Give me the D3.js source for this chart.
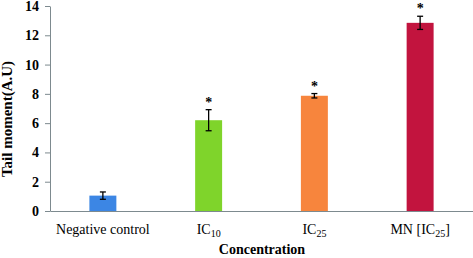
<!DOCTYPE html>
<html>
<head>
<meta charset="utf-8">
<script src="https://cdn.jsdelivr.net/npm/d3@7"></script>
<style>
  body { margin: 0; background: #fff; }
  svg text { font-family: "Liberation Serif", "Times New Roman", serif; }
</style>
</head>
<body>
<div id="chart"></div>
<script>
// donnees
var categories = ["Negative control", "IC10", "IC25", "MN [IC25]"];
var valeurs = [1.05, 6.2, 7.87, 12.85];
var erreurs = [0.25, 0.72, 0.15, 0.45];
var signif = [false, true, true, true];
var couleurs = ["#3c86e4", "#7fd42b", "#f7853d", "#c2143e"];
var yTicks = [0, 2, 4, 6, 8, 10, 12, 14];

var width = 473, height = 258;
var margin = {top: 6, right: 0, bottom: 47, left: 50};

var svg = d3.select("#chart").append("svg")
    .attr("width", width).attr("height", height);

var x = d3.scaleBand().domain(categories)
    .range([margin.left, width - margin.right])
    .paddingInner(0.745).paddingOuter(0.3725);

var y = d3.scaleLinear().domain([0, 14])
    .range([height - margin.bottom, margin.top]);

var axisColor = "#7d8a8f";

// barres
svg.selectAll(".bar").data(valeurs).enter().append("rect")
    .attr("class", "bar")
    .attr("x", (d, i) => x(categories[i]))
    .attr("y", d => y(d))
    .attr("width", x.bandwidth())
    .attr("height", d => y(0) - y(d))
    .attr("fill", (d, i) => couleurs[i]);

// barres d'erreur
var eb = svg.selectAll(".err").data(valeurs).enter().append("g")
    .attr("class", "err")
    .attr("stroke", "#000").attr("stroke-width", 1.3);
eb.append("line")
    .attr("x1", (d, i) => x(categories[i]) + x.bandwidth() / 2)
    .attr("x2", (d, i) => x(categories[i]) + x.bandwidth() / 2)
    .attr("y1", (d, i) => y(d + erreurs[i]))
    .attr("y2", (d, i) => y(d - erreurs[i]));
[1, -1].forEach(s => {
    eb.append("line")
        .attr("x1", (d, i) => x(categories[i]) + x.bandwidth() / 2 - 3)
        .attr("x2", (d, i) => x(categories[i]) + x.bandwidth() / 2 + 3)
        .attr("y1", (d, i) => y(d + s * erreurs[i]))
        .attr("y2", (d, i) => y(d + s * erreurs[i]));
});

// etoiles
valeurs.forEach((d, i) => {
    if (!signif[i]) return;
    svg.append("text")
        .attr("class", "star")
        .attr("x", x(categories[i]) + x.bandwidth() / 2)
        .attr("y", y(d + erreurs[i]) - 3)
        .attr("text-anchor", "middle")
        .attr("font-size", "14px").attr("font-weight", "bold")
        .text("*");
});

// axe Y
var yAxis = svg.append("g")
    .attr("transform", "translate(" + margin.left + ",0)")
    .call(d3.axisLeft(y).tickValues(yTicks).tickSize(5).tickPadding(6).tickSizeOuter(0));
yAxis.select(".domain").attr("stroke", axisColor);
yAxis.selectAll(".tick line").attr("stroke", axisColor);
yAxis.selectAll(".tick text")
    .attr("font-family", "Liberation Serif").attr("font-size", "14px")
    .attr("font-weight", "bold").attr("fill", "#000");

// axe X
var xAxis = svg.append("g")
    .attr("transform", "translate(0," + y(0) + ")")
    .call(d3.axisBottom(x).tickSize(0).tickPadding(13).tickSizeOuter(0));
xAxis.select(".domain").attr("stroke", axisColor).attr("stroke-width", 1.2);
xAxis.selectAll(".tick text").each(function (d) {
    var t = d3.select(this).text("")
        .attr("font-family", "Liberation Serif").attr("font-size", "14px").attr("fill", "#000");
    var m = d.match(/^(.*IC)(\d+)(.*)$/);
    if (m) {
        t.append("tspan").text(m[1]);
        t.append("tspan").text(m[2]).attr("font-size", "10px").attr("dy", "3");
        if (m[3]) t.append("tspan").text(m[3]).attr("dy", "-3");
    } else t.text(d);
});

// titres
svg.append("text")
    .attr("x", 262).attr("y", 254)
    .attr("text-anchor", "middle")
    .attr("font-size", "14px").attr("font-weight", "bold")
    .text("Concentration");

svg.append("text")
    .attr("transform", "translate(12,119) rotate(-90)")
    .attr("text-anchor", "middle")
    .attr("font-size", "15px").attr("font-weight", "bold")
    .text("Tail moment(A.U)");
</script>
</body>
</html>
